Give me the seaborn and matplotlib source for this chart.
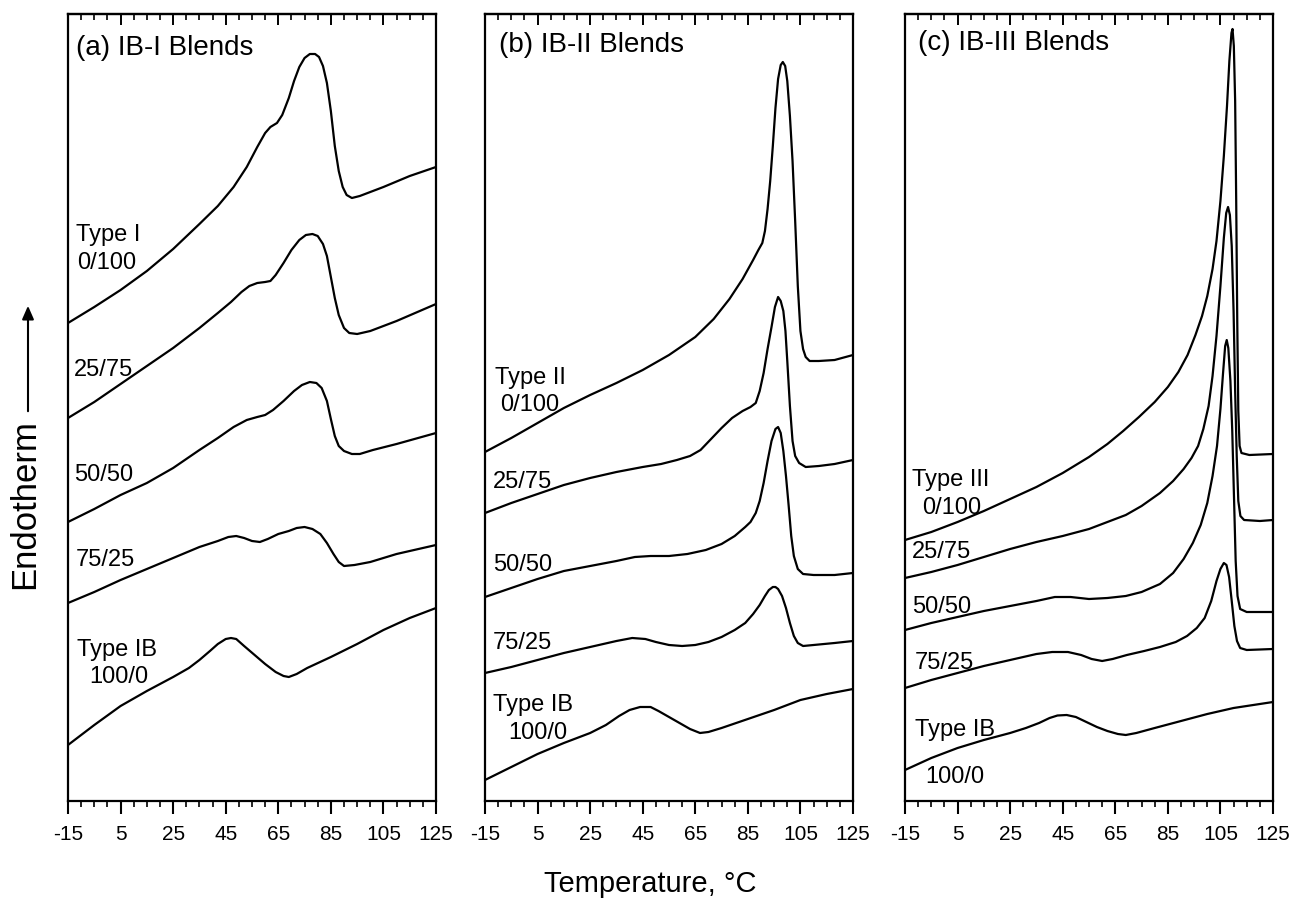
import numpy as np
import pandas as pd
import matplotlib
matplotlib.use("Agg")
import matplotlib.pyplot as plt
from matplotlib.ticker import MultipleLocator, FixedLocator
from matplotlib.patches import FancyArrowPatch
import seaborn as sns

# ---------------- data (endotherm in arbitrary units) ----------------
# Panel (a) IB-I blends
a_I_T = [-15, -5, 5, 15, 25, 35, 42, 48, 53, 57, 60, 62, 64.5, 66.5, 69, 71, 73, 75, 77, 79, 80.5, 82, 83.5, 85, 86.5, 88, 89.5, 91, 93, 96, 105, 115, 125]
a_I_y = [478, 494, 511, 530, 552, 577, 595, 614, 634, 654, 668, 674, 678, 686, 703, 720, 734, 743, 747, 747, 744, 735, 718, 690, 655, 630, 614, 606, 603, 605, 614, 625, 634]
a_25_T = [-15, -5, 5, 15, 25, 35, 42, 47, 51, 54, 57, 60, 62, 64, 67, 70, 73, 75.5, 78, 80, 82, 83.5, 85, 86.5, 88, 90, 92, 95, 100, 110, 125]
a_25_y = [383, 399, 417, 435, 453, 473, 488, 499, 509, 515, 518, 519, 520, 526, 538, 551, 561, 566, 567, 565, 557, 545, 524, 503, 486, 473, 468, 467, 470, 480, 497]
a_50_T = [-15, -5, 5, 15, 25, 35, 42, 48, 53, 57, 60, 63, 67, 71, 74, 77, 79.5, 81.5, 83.5, 85, 86.5, 88, 90, 93, 96, 101, 110, 125]
a_50_y = [279, 292, 306, 318, 333, 351, 363, 374, 381, 384, 386, 391, 400, 410, 416, 419, 418, 413, 400, 382, 365, 355, 350, 347, 347, 351, 357, 368]
a_75_T = [-15, -5, 5, 15, 25, 35, 42, 46, 49, 52, 55, 58, 61, 65, 69, 72, 75, 78, 81, 83.5, 86, 88, 90, 94, 100, 110, 125]
a_75_y = [198, 209, 221, 232, 243, 254, 260, 264, 265, 263, 260, 259, 262, 267, 270, 273, 274, 272, 267, 258, 247, 239, 235, 236, 239, 247, 256]
a_IB_T = [-15, -10, -5, 5, 15, 25, 31, 35, 39, 42, 45, 47, 49, 52, 56, 60, 64, 67, 69, 72, 76, 85, 95, 105, 115, 125]
a_IB_y = [56, 66, 76, 95, 110, 124, 133, 141, 150, 157, 162, 163, 162, 155, 146, 137, 129, 125, 124, 127, 133, 144, 157, 171, 183, 193]

# Panel (b) IB-II blends
b_II_T = [-15, -5, 5, 15, 25, 35, 45, 55, 65, 72, 78, 83, 87, 89, 90.5, 91.5, 92.5, 93.5, 94.5, 95.5, 96.5, 97.5, 98.3, 99.2, 100, 101, 102, 103, 104, 105, 106, 107, 108.5, 112, 118, 125]
b_II_y = [349, 363, 378, 393, 406, 418, 431, 446, 464, 482, 502, 522, 541, 551, 558, 570, 592, 620, 655, 693, 722, 736, 739, 735, 720, 685, 640, 580, 515, 470, 452, 444, 440, 440, 441, 446]
b_25_T = [-15, -5, 5, 15, 25, 35, 45, 52, 58, 63, 67, 71, 75, 79, 83, 86, 88, 89.5, 91, 92.5, 94, 95.3, 96.5, 97.5, 98.5, 99.3, 100, 101, 102, 103, 104.5, 107, 112, 118, 125]
b_25_y = [288, 298, 307, 316, 323, 329, 334, 337, 341, 345, 351, 362, 373, 383, 390, 394, 398, 410, 428, 452, 474, 494, 504, 500, 490, 470, 440, 395, 360, 345, 338, 334, 335, 337, 341]
b_50_T = [-15, -5, 5, 15, 25, 35, 42, 48, 55, 62, 69, 75, 80, 84, 86, 88, 89.5, 91, 92.5, 94, 95.5, 96.5, 97.5, 98.5, 99.5, 100.5, 101.5, 102.5, 104, 106, 110, 118, 125]
b_50_y = [204, 213, 222, 230, 235, 240, 244, 245, 245, 247, 251, 257, 265, 274, 279, 288, 300, 318, 340, 360, 372, 374, 368, 350, 325, 296, 265, 245, 232, 227, 226, 226, 228]
b_75_T = [-15, -5, 5, 15, 25, 35, 41, 46, 50, 55, 60, 65, 70, 75, 80, 84, 87, 89.5, 91.5, 93, 94.5, 95.5, 96.5, 98, 99.5, 101, 102.5, 104, 106, 110, 118, 125]
b_75_y = [128, 134, 141, 148, 154, 160, 163, 162, 159, 156, 155, 156, 159, 164, 171, 178, 187, 196, 205, 211, 214, 214, 212, 205, 193, 178, 165, 158, 155, 156, 158, 160]
b_IB_T = [-15, -5, 5, 15, 25, 31, 36, 40, 44, 48, 51, 55, 59, 63, 66.8, 70, 75, 85, 95, 105, 115, 125]
b_IB_y = [21, 34, 47, 58, 68, 76, 85, 91, 94, 94, 90, 84, 78, 72, 68, 69, 73, 82, 91, 101, 107, 112]

# Panel (c) IB-III blends
c_III_T = [-15, -5, 5, 15, 25, 35, 45, 55, 62, 68, 74, 80, 85, 89, 92.5, 95.5, 98, 100, 102, 103.5, 105, 106.3, 107.5, 108.4, 109.2, 109.6, 110.1, 110.6, 111, 111.4, 111.8, 112.3, 113, 116, 125]
c_III_y = [261, 269, 279, 290, 302, 314, 328, 344, 357, 370, 384, 399, 414, 429, 446, 466, 485, 505, 532, 560, 600, 645, 695, 740, 768, 772, 755, 700, 600, 480, 390, 355, 348, 346, 347]
c_25_T = [-15, -5, 5, 15, 25, 35, 45, 55, 62, 69, 75, 82, 87, 91, 94, 96.5, 98.5, 100.5, 102, 103.5, 105, 106.3, 107.2, 107.9, 108.6, 109.3, 110, 110.6, 111.2, 111.8, 112.6, 114, 120, 125]
c_25_y = [223, 229, 236, 244, 252, 259, 265, 272, 279, 286, 295, 308, 320, 332, 343, 355, 372, 395, 425, 465, 515, 563, 588, 594, 586, 555, 490, 410, 345, 300, 285, 281, 280, 281]
c_50_T = [-15, -5, 5, 15, 25, 35, 42, 48, 55, 62, 69, 75, 82, 87, 91, 94.5, 97.5, 100, 102, 103.7, 105, 106, 106.8, 107.4, 108, 108.8, 109.5, 110.2, 110.8, 111.5, 112.5, 115, 125]
c_50_y = [171, 178, 184, 190, 195, 200, 204, 204, 202, 203, 205, 209, 217, 228, 242, 258, 276, 298, 325, 355, 392, 428, 455, 461, 453, 420, 370, 300, 240, 205, 192, 189, 189]
c_75_T = [-15, -5, 5, 15, 25, 35, 41, 47, 52, 56, 60, 64, 69.4, 76, 82, 88, 92.3, 96, 99, 101.5, 103.5, 105, 106.3, 107.3, 108.3, 109.3, 110.3, 111.3, 112.5, 115, 125]
c_75_y = [113, 121, 128, 135, 141, 147, 149, 149, 146, 142, 140, 142, 146, 150, 154, 159, 165, 173, 183, 200, 220, 232, 238, 236, 224, 200, 175, 160, 153, 151, 152]
c_IB_T = [-15, -5, 5, 15, 25, 31, 36, 40, 43, 46.5, 50, 54, 58, 62, 66, 69, 73, 80, 90, 100, 110, 125]
c_IB_y = [31, 43, 53, 61, 68, 73, 78, 83, 85.5, 86, 84, 79, 74, 70, 67, 66, 68, 73, 80, 87, 93, 99]

panel_titles = ["(a) IB-I Blends", "(b) IB-II Blends", "(c) IB-III Blends"]
xtick_values = [-15, 5, 25, 45, 65, 85, 105, 125]
xtick_labels = ["-15", "5", "25", "45", "65", "85", "105", "125"]

# curve labels: (text, x, y)
labels_a = [("Type I", -12, 566), ("0/100", -11.6, 538), ("25/75", -12.7, 431),
            ("50/50", -12.7, 326), ("75/25", -12, 241), ("Type IB", -11.6, 151), ("100/0", -7, 124)]
labels_b = [("Type II", -11.2, 423), ("0/100", -9.3, 396), ("25/75", -12, 319),
            ("50/50", -12, 236), ("75/25", -12, 158), ("Type IB", -12, 96), ("100/0", -6.3, 68)]
labels_c = [("Type III", -12.3, 321), ("0/100", -8.5, 293), ("25/75", -12.3, 249),
            ("50/50", -12.3, 194), ("75/25", -11.2, 138), ("Type IB", -11.2, 71), ("100/0", -7.4, 24)]

panels = [
    [("0/100", a_I_T, a_I_y), ("25/75", a_25_T, a_25_y), ("50/50", a_50_T, a_50_y),
     ("75/25", a_75_T, a_75_y), ("100/0", a_IB_T, a_IB_y)],
    [("0/100", b_II_T, b_II_y), ("25/75", b_25_T, b_25_y), ("50/50", b_50_T, b_50_y),
     ("75/25", b_75_T, b_75_y), ("100/0", b_IB_T, b_IB_y)],
    [("0/100", c_III_T, c_III_y), ("25/75", c_25_T, c_25_y), ("50/50", c_50_T, c_50_y),
     ("75/25", c_75_T, c_75_y), ("100/0", c_IB_T, c_IB_y)],
]
panel_labels = [labels_a, labels_b, labels_c]

# ---------------- styling ----------------
sns.set_theme(style="white")
plt.rcParams["font.family"] = ["Liberation Sans", "DejaVu Sans"]
plt.rcParams["text.color"] = "black"
plt.rcParams["xtick.color"] = "black"
plt.rcParams["xtick.labelcolor"] = "black"

W, H = 1293, 900
fig = plt.figure(figsize=(W / 100, H / 100), dpi=100)

lefts_px = [68, 485, 905]
width_px = 368
top_px, bottom_px = 14, 801

for i, (curves, labs, title) in enumerate(zip(panels, panel_labels, panel_titles)):
    ax = fig.add_axes([lefts_px[i] / W, 1 - bottom_px / H, width_px / W, (bottom_px - top_px) / H])
    rows = []
    for name, T, y in curves:
        for t, v in zip(T, y):
            rows.append((name, t, v))
    df = pd.DataFrame(rows, columns=["blend", "T", "endo"])
    sns.lineplot(data=df, x="T", y="endo", units="blend", estimator=None, sort=False,
                 color="black", lw=1.6, ax=ax, legend=False)
    for ln in ax.lines:
        ln.set_solid_joinstyle("round")
    ax.set_xlim(-15, 125)
    ax.set_ylim(0, bottom_px - top_px)
    ax.set_xlabel("")
    ax.set_ylabel("")
    ax.set_yticks([])
    for s in ax.spines.values():
        s.set_visible(True)
        s.set_color("black")
        s.set_linewidth(1.6)
    ax.xaxis.set_major_locator(FixedLocator(xtick_values))
    ax.set_xticklabels(xtick_labels, fontsize=15, color="black")
    ax.xaxis.set_minor_locator(MultipleLocator(5))
    ax.tick_params(axis="x", which="major", direction="out", length=9, width=1.5,
                   colors="black", pad=8, bottom=True)
    ax.tick_params(axis="x", which="minor", direction="out", length=4.5, width=1.2,
                   colors="black", bottom=True)
    top = ax.secondary_xaxis("top")
    top.xaxis.set_major_locator(FixedLocator(xtick_values))
    top.xaxis.set_minor_locator(MultipleLocator(5))
    top.tick_params(axis="x", which="major", direction="in", length=8, width=1.4,
                    labeltop=False, colors="black")
    top.tick_params(axis="x", which="minor", direction="in", length=4, width=1.2, colors="black")
    top.spines["top"].set_linewidth(1.6)

    ax.text([-12, -9.7, -10][i], [753, 756, 758][i], title, fontsize=20, ha="left", va="center",
            color="black")
    for txt, x, y in labs:
        ax.text(x, y, txt, fontsize=17, ha="left", va="center", color="black")

fig.text(650 / W, 1 - 884 / H, "Temperature, °C", fontsize=21, ha="center", va="center", color="black")
fig.text(25 / W, 1 - 504 / H, "Endotherm", fontsize=25, rotation=90, ha="center", va="center",
         color="black")
arrow = FancyArrowPatch((28 / W, 1 - 414 / H), (28 / W, 1 - 303 / H), transform=fig.transFigure,
                        arrowstyle="-|>,head_length=8,head_width=3.5", color="black", lw=1.5)
fig.add_artist(arrow)

fig.savefig("out.png", dpi=100, facecolor="white")
